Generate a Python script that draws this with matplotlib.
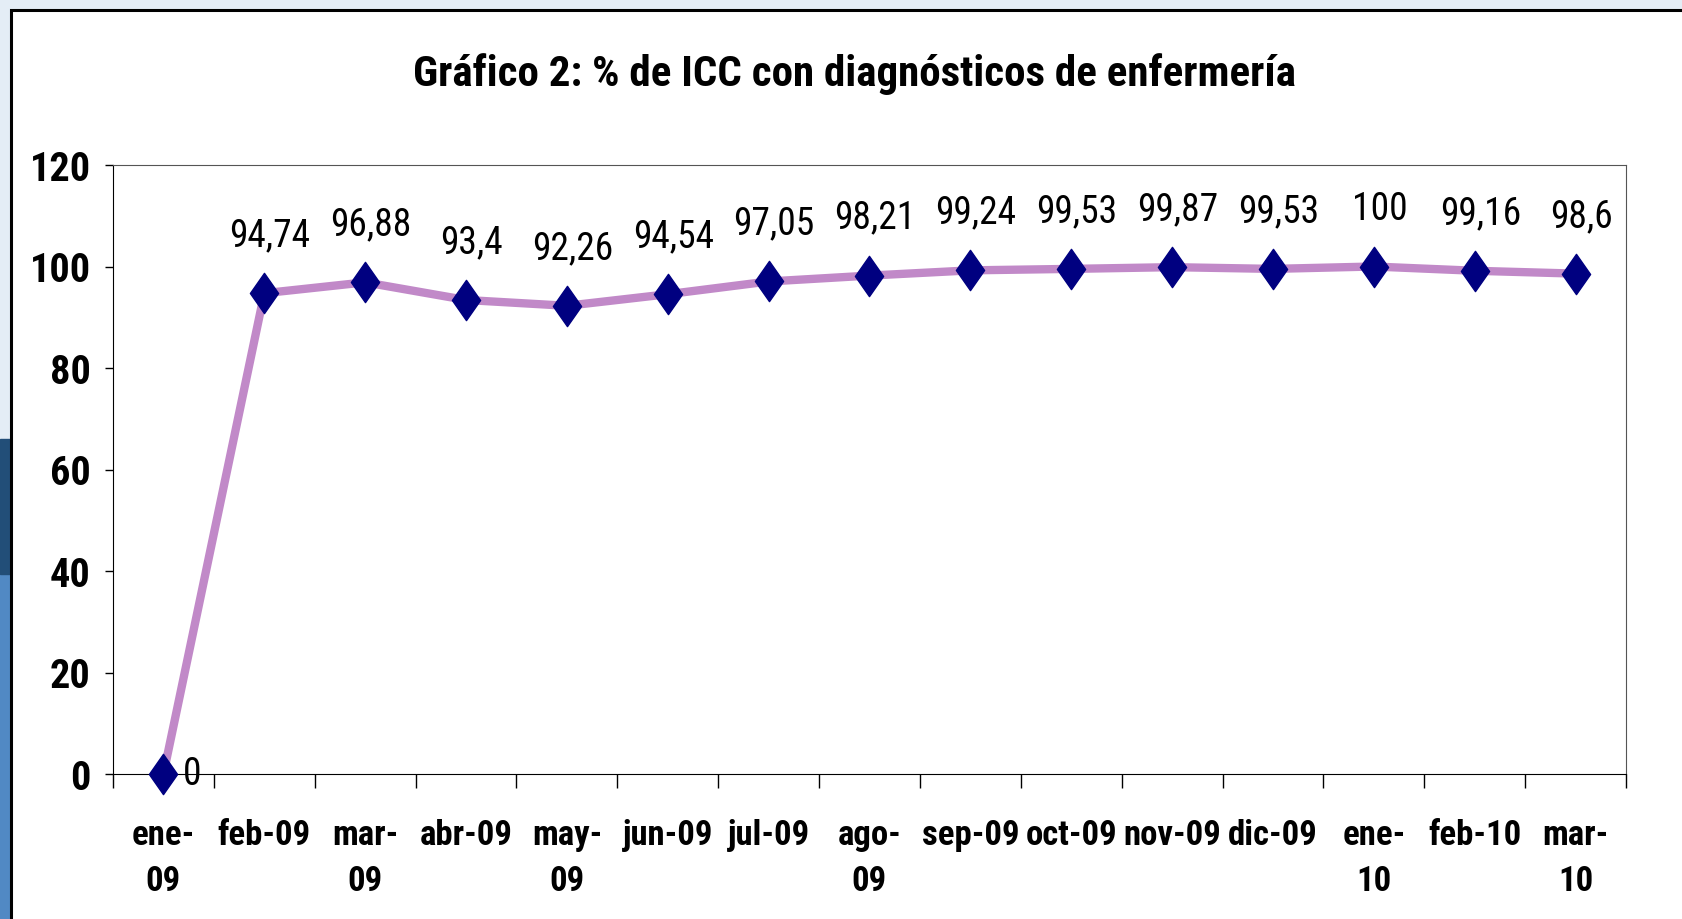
import matplotlib.pyplot as plt
from matplotlib.patches import Rectangle
from matplotlib.path import Path

meses = ["ene-\n09", "feb-09", "mar-\n09", "abr-09", "may-\n09", "jun-09", "jul-09",
         "ago-\n09", "sep-09", "oct-09", "nov-09", "dic-09", "ene-\n10", "feb-10", "mar-\n10"]
valores = [0, 94.74, 96.88, 93.4, 92.26, 94.54, 97.05, 98.21, 99.24, 99.53,
           99.87, 99.53, 100, 99.16, 98.6]
etiquetas = ["0", "94,74", "96,88", "93,4", "92,26", "94,54", "97,05", "98,21", "99,24",
             "99,53", "99,87", "99,53", "100", "99,16", "98,6"]

narrow = ["Roboto Condensed", "DejaVu Sans"]

fig = plt.figure(figsize=(16.83, 9.2), dpi=100, facecolor="#e4edf6")

# slide background on the left edge + white chart frame
fig.add_artist(Rectangle((0, 0), 11 / 1683, 345 / 920, transform=fig.transFigure,
                         color="#5189c4", zorder=0))
fig.add_artist(Rectangle((0, 345 / 920), 11 / 1683, 135 / 920, transform=fig.transFigure,
                         color="#224e78", zorder=0))
fig.add_artist(Rectangle((11 / 1683, -0.05), 1.1, 1.05 - 11 / 920, transform=fig.transFigure,
                         facecolor="white", edgecolor="black", linewidth=2.2, zorder=1))

ax = fig.add_axes([113 / 1683, 145 / 920, (1626 - 113) / 1683, (775 - 166) / 920])
ax.set_zorder(2)

x = list(range(len(meses)))
diamante = Path([(0, 1), (0.7, 0), (0, -1), (-0.7, 0), (0, 1)],
                [Path.MOVETO, Path.LINETO, Path.LINETO, Path.LINETO, Path.CLOSEPOLY])

ax.plot(x, valores, color="#c189c8", linewidth=6, solid_joinstyle="miter",
        marker=diamante, markersize=29, markerfacecolor="#000080",
        markeredgecolor="#000080", clip_on=False, zorder=3)

for i, (v, t) in enumerate(zip(valores, etiquetas)):
    if v == 0:
        ax.annotate(t, (i, v), xytext=(14, 0), textcoords="offset points",
                    ha="left", va="center", fontsize=27, family=narrow)
    else:
        ax.annotate(t, (i, v), xytext=(4, 42), textcoords="offset points",
                    ha="center", va="center", fontsize=27, family=narrow)

ax.set_xlim(-0.5, len(meses) - 0.5)
ax.set_ylim(0, 120)
ax.set_yticks(range(0, 121, 20))
ax.tick_params(axis="y", direction="out", length=6, width=1, pad=10)
for lab in ax.get_yticklabels():
    lab.set_fontsize(29)
    lab.set_fontweight("bold")
    lab.set_family(narrow)

# category axis: ticks between categories, labels centred
ax.set_xticks([i - 0.5 for i in range(len(meses) + 1)])
ax.set_xticklabels([])
ax.tick_params(axis="x", direction="out", length=10, width=1)
for i, m in enumerate(meses):
    ax.text(i, -0.072, m, transform=ax.get_xaxis_transform(), ha="center", va="top",
            fontsize=25, fontweight="bold", family=narrow, linespacing=1.5)

ax.spines["left"].set_color("black")
ax.spines["bottom"].set_color("black")
ax.spines["top"].set_color("#555555")
ax.spines["right"].set_color("#555555")

fig.text(0.508, 0.92, "Gráfico 2: % de ICC con diagnósticos de enfermería",
         ha="center", va="center", fontsize=31, fontweight="bold", family=narrow, zorder=3)

fig.savefig("out.png", dpi=100, facecolor=fig.get_facecolor())
